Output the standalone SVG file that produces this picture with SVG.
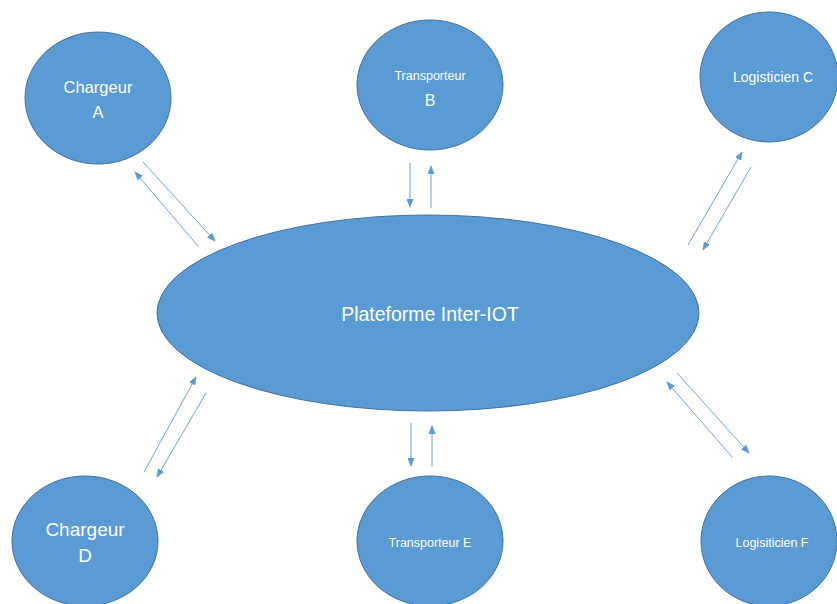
<svg xmlns="http://www.w3.org/2000/svg" width="837" height="604" viewBox="0 0 837 604">
<style>
.n{fill:#5B9BD5;stroke:#41719C;stroke-width:1}
.t{fill:#FFFFFF;font-family:"Liberation Sans",Arial,sans-serif;text-anchor:middle}
.c{stroke:#6FA3D8;stroke-width:1;fill:none;marker-end:url(#ah)}
</style>
<defs>
<marker id="ah" markerWidth="9" markerHeight="7" refX="8" refY="3.5" orient="auto" markerUnits="userSpaceOnUse">
<path d="M0,0 L9,3.5 L0,7 Z" fill="#5B9BD5"/>
</marker>
</defs>
<rect width="837" height="604" fill="#FFFFFF"/>
<g id="platform">
<ellipse class="n" cx="428" cy="313" rx="271" ry="98"/>
<text class="t" x="430" y="321" font-size="19.5">Plateforme Inter-IOT</text>
</g>
<g id="chargeurA">
<ellipse class="n" cx="98" cy="98" rx="73" ry="66"/>
<text class="t" x="98" y="93" font-size="16.5">Chargeur</text>
<text class="t" x="98" y="118" font-size="16.5">A</text>
</g>
<g id="transporteurB">
<ellipse class="n" cx="430" cy="85" rx="73" ry="65"/>
<text class="t" x="430" y="80" font-size="12.5">Transporteur</text>
<text class="t" x="430" y="106" font-size="16">B</text>
</g>
<g id="logisticienC">
<ellipse class="n" cx="769" cy="77" rx="69" ry="65"/>
<text class="t" x="773" y="82" font-size="14">Logisticien C</text>
</g>
<g id="chargeurD">
<ellipse class="n" cx="85" cy="541" rx="73" ry="65"/>
<text class="t" x="85" y="536" font-size="19">Chargeur</text>
<text class="t" x="85" y="562" font-size="19">D</text>
</g>
<g id="transporteurE">
<ellipse class="n" cx="430" cy="541" rx="73" ry="65"/>
<text class="t" x="430" y="547" font-size="12.5">Transporteur E</text>
</g>
<g id="logisticienF">
<ellipse class="n" cx="769" cy="541" rx="68" ry="65"/>
<text class="t" x="772" y="547" font-size="12.5">Logisiticien F</text>
</g>
<g id="connectors">
<line class="c" x1="143" y1="162" x2="215" y2="241"/>
<line class="c" x1="198" y1="246" x2="135" y2="172"/>
<line class="c" x1="410" y1="163" x2="410" y2="207"/>
<line class="c" x1="431" y1="208" x2="431" y2="166"/>
<line class="c" x1="688" y1="245" x2="742" y2="152"/>
<line class="c" x1="751" y1="167" x2="703" y2="250"/>
<line class="c" x1="144" y1="472" x2="196" y2="377"/>
<line class="c" x1="206" y1="393" x2="157" y2="477"/>
<line class="c" x1="411" y1="423" x2="411" y2="466"/>
<line class="c" x1="432" y1="467" x2="432" y2="426"/>
<line class="c" x1="732" y1="457" x2="667" y2="382"/>
<line class="c" x1="677" y1="373" x2="749" y2="453"/>
</g>
</svg>
